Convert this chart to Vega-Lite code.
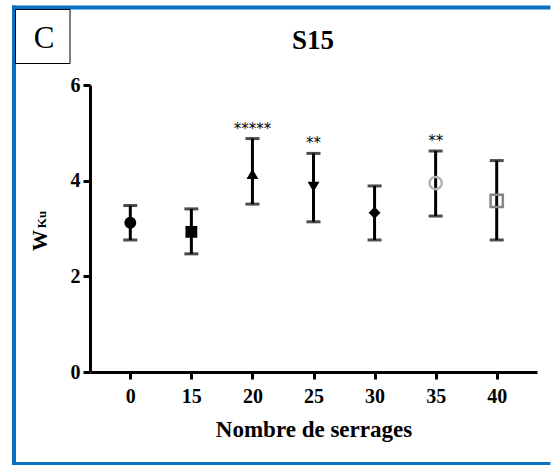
{
  "$schema": "https://vega.github.io/schema/vega-lite/v6.json",
  "width": 447,
  "height": 287,
  "autosize": {"type": "none"},
  "padding": {"left": 90, "top": 85, "right": 16, "bottom": 93},
  "background": "white",
  "config": {
    "view": {"stroke": null},
    "axis": {
      "grid": false,
      "domainColor": "black",
      "domainWidth": 3,
      "tickColor": "black",
      "tickWidth": 3,
      "tickSize": 7,
      "labelFont": "Liberation Serif",
      "labelFontWeight": "bold",
      "labelFontSize": 20,
      "labelColor": "black",
      "titleFont": "Liberation Serif",
      "titleFontWeight": "bold",
      "titleColor": "black"
    },
    "axisY": {
      "labelPadding": 3,
      "labelBaseline": "middle",
      "titleFontSize": 21,
      "titleAngle": 270,
      "titleAlign": "center",
      "titleBaseline": "alphabetic",
      "titleX": -44,
      "titleY": 155
    }
  },
  "datasets": {
    "wku": [
      {"n": "0", "mean": 3.12, "lo": 2.76, "hi": 3.48, "sig": ""},
      {"n": "15", "mean": 2.93, "lo": 2.47, "hi": 3.41, "sig": ""},
      {"n": "20", "mean": 4.14, "lo": 3.51, "hi": 4.88, "sig": "*****"},
      {"n": "25", "mean": 3.87, "lo": 3.14, "hi": 4.57, "sig": "**"},
      {"n": "30", "mean": 3.33, "lo": 2.76, "hi": 3.89, "sig": ""},
      {"n": "35", "mean": 3.95, "lo": 3.26, "hi": 4.62, "sig": "**"},
      {"n": "40", "mean": 3.58, "lo": 2.76, "hi": 4.42, "sig": ""}
    ]
  },
  "layer": [
    {
      "data": {"name": "wku"},
      "encoding": {
        "x": {
          "field": "n",
          "type": "ordinal",
          "sort": ["0", "15", "20", "25", "30", "35", "40"],
          "scale": {"type": "point", "padding": 0.66},
          "axis": {
            "title": "Nombre de serrages",
            "labelAngle": 0,
            "labelBaseline": "alphabetic",
            "labelPadding": 23,
            "titleFontSize": 23,
            "titleBaseline": "alphabetic",
            "titleY": 64
          }
        }
      },
      "layer": [
        {
          "mark": {"type": "rule", "strokeWidth": 3, "color": "black"},
          "encoding": {
            "y": {
              "field": "lo",
              "type": "quantitative",
              "scale": {"domain": [0, 6], "nice": false},
              "title": "W",
              "axis": {"values": [0, 2, 4, 6]}
            },
            "y2": {"field": "hi"}
          }
        },
        {
          "mark": {"type": "tick", "orient": "horizontal", "size": 14, "thickness": 3, "color": "black"},
          "encoding": {"y": {"field": "lo", "type": "quantitative", "title": "W", "axis": {"values": [0, 2, 4, 6]}}}
        },
        {
          "mark": {"type": "tick", "orient": "horizontal", "size": 14, "thickness": 3, "color": "black"},
          "encoding": {"y": {"field": "hi", "type": "quantitative", "title": "W", "axis": {"values": [0, 2, 4, 6]}}}
        },
        {
          "transform": [{"filter": "datum.n != '35' && datum.n != '40'"}],
          "mark": {"type": "point", "filled": true, "color": "black", "opacity": 1, "size": 140},
          "encoding": {
            "y": {"field": "mean", "type": "quantitative", "title": "W", "axis": {"values": [0, 2, 4, 6]}},
            "shape": {
              "field": "n",
              "type": "nominal",
              "scale": {
                "domain": ["0", "15", "20", "25", "30", "35", "40"],
                "range": ["circle", "square", "triangle-up", "triangle-down", "diamond", "circle", "square"]
              },
              "legend": null
            }
          }
        },
        {
          "transform": [{"filter": "datum.n == '35' || datum.n == '40'"}],
          "mark": {"type": "point", "filled": false, "strokeWidth": 2.5, "opacity": 1, "size": 150},
          "encoding": {
            "y": {"field": "mean", "type": "quantitative", "title": "W", "axis": {"values": [0, 2, 4, 6]}},
            "shape": {
              "field": "n",
              "type": "nominal",
              "scale": {
                "domain": ["0", "15", "20", "25", "30", "35", "40"],
                "range": ["circle", "square", "triangle-up", "triangle-down", "diamond", "circle", "square"]
              },
              "legend": null
            },
            "color": {
              "field": "n",
              "type": "nominal",
              "scale": {"domain": ["35", "40"], "range": ["#b3b3b3", "#858585"]},
              "legend": null
            }
          }
        },
        {
          "transform": [{"filter": "datum.sig != ''"}],
          "mark": {"type": "text", "font": "DejaVu Sans", "fontSize": 15, "baseline": "alphabetic", "align": "center", "dy": -5, "color": "black"},
          "encoding": {
            "y": {"field": "hi", "type": "quantitative", "title": "W", "axis": {"values": [0, 2, 4, 6]}},
            "text": {"field": "sig"}
          }
        }
      ]
    },
    {
      "data": {"values": [{}]},
      "mark": {"type": "rule", "stroke": "#0a70c0", "strokeWidth": 4},
      "encoding": {
        "x": {"datum": -0.1745, "type": "quantitative", "scale": {"domain": [0, 1]}, "axis": null},
        "x2": {"datum": 1.03},
        "y": {"datum": 1.27, "type": "quantitative", "scale": {"domain": [0, 1]}, "axis": null}
      }
    },
    {
      "data": {"values": [{}]},
      "mark": {"type": "rule", "stroke": "#0a70c0", "strokeWidth": 4},
      "encoding": {
        "x": {"datum": -0.17, "type": "quantitative", "scale": {"domain": [0, 1]}, "axis": null},
        "y": {"datum": 1.277, "type": "quantitative", "scale": {"domain": [0, 1]}, "axis": null},
        "y2": {"datum": -0.35}
      }
    },
    {
      "data": {"values": [{}]},
      "mark": {"type": "rule", "stroke": "#0a70c0", "strokeWidth": 4},
      "encoding": {
        "x": {"datum": -0.1745, "type": "quantitative", "scale": {"domain": [0, 1]}, "axis": null},
        "x2": {"datum": 1.03},
        "y": {"datum": -0.3206, "type": "quantitative", "scale": {"domain": [0, 1]}, "axis": null}
      }
    },
    {
      "data": {"values": [{}]},
      "mark": {"type": "rect", "fill": "white", "stroke": "black", "strokeWidth": 1},
      "encoding": {
        "x": {"datum": -0.1667, "type": "quantitative", "scale": {"domain": [0, 1]}, "axis": null},
        "x2": {"datum": -0.0447},
        "y": {"datum": 1.2631, "type": "quantitative", "scale": {"domain": [0, 1]}, "axis": null},
        "y2": {"datum": 1.0749}
      }
    },
    {
      "data": {"values": [{}]},
      "mark": {"type": "text", "text": "C", "font": "Liberation Serif", "fontSize": 31, "align": "center", "baseline": "middle", "color": "black"},
      "encoding": {
        "x": {"datum": -0.1029, "type": "quantitative", "scale": {"domain": [0, 1]}, "axis": null},
        "y": {"datum": 1.1603, "type": "quantitative", "scale": {"domain": [0, 1]}, "axis": null}
      }
    },
    {
      "data": {"values": [{}]},
      "mark": {"type": "text", "text": "S15", "font": "Liberation Serif", "fontWeight": "bold", "fontSize": 27, "align": "center", "baseline": "middle", "color": "black"},
      "encoding": {
        "x": {"datum": 0.4989, "type": "quantitative", "scale": {"domain": [0, 1]}, "axis": null},
        "y": {"datum": 1.155, "type": "quantitative", "scale": {"domain": [0, 1]}, "axis": null}
      }
    },
    {
      "data": {"values": [{}]},
      "mark": {"type": "text", "text": "Ku", "font": "Liberation Serif", "fontWeight": "bold", "fontSize": 13, "angle": 270, "align": "center", "baseline": "alphabetic", "color": "black"},
      "encoding": {
        "x": {"datum": -0.0984, "type": "quantitative", "scale": {"domain": [0, 1]}, "axis": null},
        "y": {"datum": 0.5314, "type": "quantitative", "scale": {"domain": [0, 1]}, "axis": null}
      }
    }
  ],
  "resolve": {
    "scale": {"x": "independent", "y": "independent"},
    "axis": {"x": "independent", "y": "independent"}
  }
}
